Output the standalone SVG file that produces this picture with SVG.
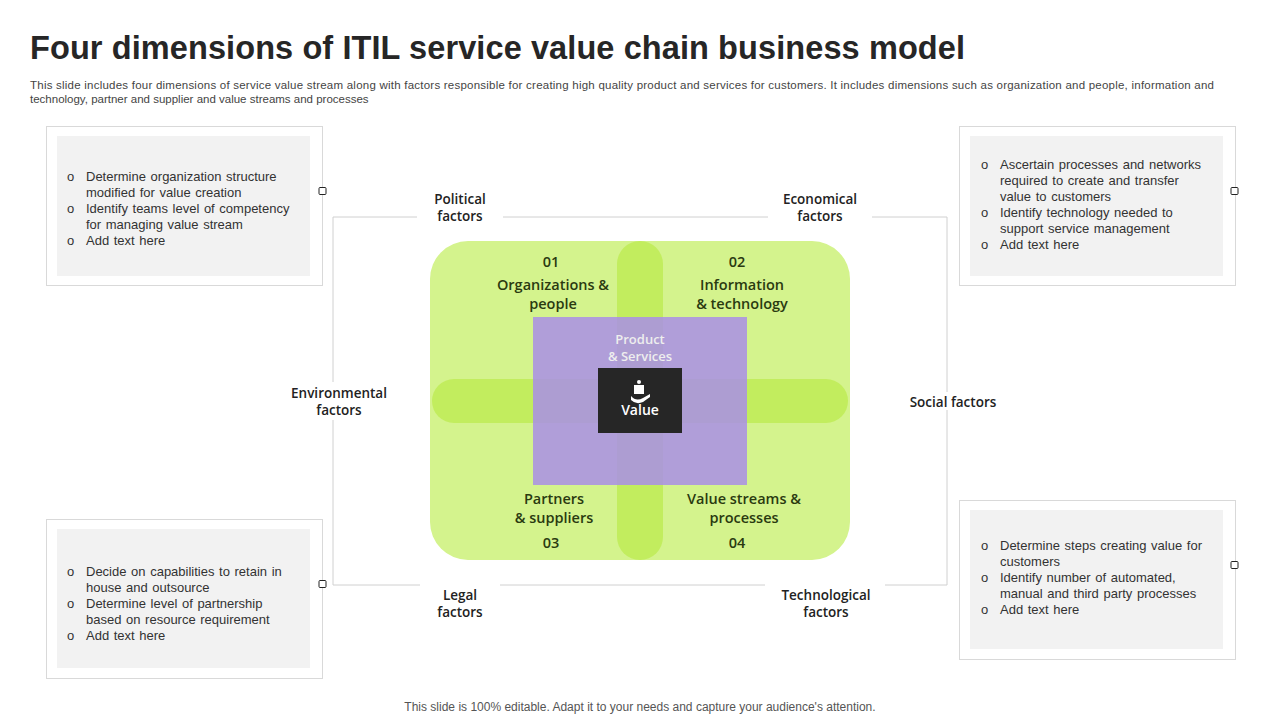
<svg xmlns="http://www.w3.org/2000/svg" width="1280" height="720" viewBox="0 0 1280 720">
<style>
.t{font-family:"Liberation Sans",Arial,sans-serif;fill:#333}
.b{font-family:"Liberation Sans",Arial,sans-serif;font-size:13px;fill:#333;word-spacing:1px}
.c{font-family:"Open Sans","Noto Sans",sans-serif;font-size:13.5px;font-weight:600;fill:#222;text-anchor:middle}
.d{font-family:"Open Sans","Noto Sans",sans-serif;font-size:14.5px;font-weight:600;fill:#2a3a10;text-anchor:middle}
.box{fill:#fff;stroke:#d9d9d9}
.in{fill:#f2f2f2}
.h{fill:#fff;stroke:#222;stroke-width:1}
.ln{stroke:#d0d0d0;fill:none;stroke-width:1}
</style>
<rect width="1280" height="720" fill="#fff"/>
<text x="30" y="59" class="t" style="font-size:32.5px;font-weight:bold;fill:#262626" textLength="935">Four dimensions of ITIL service value chain business model</text>
<text class="t" style="font-size:11.5px;fill:#444"><tspan x="30" y="89" textLength="1184">This slide includes four dimensions of service value stream along with factors responsible for creating high quality product and services for customers. It includes dimensions such as organization and people, information and</tspan><tspan x="30" y="103">technology, partner and supplier and value streams and processes</tspan></text>
<g id="connectors">
<path class="ln" d="M417 217H333V585H420M503 217H768M872 217H947V585H885M500 585H765"/>
</g>
<g id="center">
<rect x="430" y="241" width="420" height="319" rx="38" fill="#d4f38d"/>
<rect x="617" y="241" width="46" height="319" rx="23" fill="#c2ed5e"/>
<rect x="432" y="379" width="416" height="44" rx="22" fill="#c2ed5e"/>
<rect x="533" y="317" width="214" height="168" fill="#a98ee6" opacity="0.85"/>
<rect x="598" y="368" width="84" height="65" fill="#262626"/>
<g fill="#fff"><rect x="634" y="385" width="10" height="9"/><path d="M631 396 q5 6 12 2 l7-4 v3 l-7 5 q-7 3-12-2z"/><circle cx="639" cy="382" r="2"/></g>
<text x="640" y="415" class="d" style="fill:#fff;font-size:14px">Value</text>
<text x="640" y="344" class="d" style="fill:#eee;font-size:13px">Product</text>
<text x="640" y="361" class="d" style="fill:#eee;font-size:13px">&amp; Services</text>
<text x="551" y="267" class="d">01</text>
<text x="553" y="290" class="d">Organizations &amp;</text>
<text x="553" y="309" class="d">people</text>
<text x="737" y="267" class="d">02</text>
<text x="742" y="290" class="d">Information</text>
<text x="742" y="309" class="d">&amp; technology</text>
<text x="554" y="504" class="d">Partners</text>
<text x="554" y="523" class="d">&amp; suppliers</text>
<text x="551" y="548" class="d">03</text>
<text x="744" y="504" class="d">Value streams &amp;</text>
<text x="744" y="523" class="d">processes</text>
<text x="737" y="548" class="d">04</text>
</g>
<g id="factors">
<text x="460" y="204" class="c">Political</text><text x="460" y="221" class="c">factors</text>
<text x="820" y="204" class="c">Economical</text><text x="820" y="221" class="c">factors</text>
<rect x="285" y="382" width="108" height="38" fill="#fff"/>
<text x="339" y="398" class="c">Environmental</text><text x="339" y="415" class="c">factors</text>
<rect x="905" y="392" width="96" height="18" fill="#fff"/>
<text x="953" y="407" class="c">Social factors</text>
<text x="460" y="600" class="c">Legal</text><text x="460" y="617" class="c">factors</text>
<text x="826" y="600" class="c">Technological</text><text x="826" y="617" class="c">factors</text>
</g>
<g id="box-tl">
<rect class="box" x="46.5" y="126.5" width="276" height="159"/>
<rect class="in" x="57" y="136" width="253" height="140"/>
<rect class="h" x="319" y="187.5" width="7" height="7" rx="1"/>
<text class="b"><tspan x="67" y="181">o</tspan><tspan x="86" y="181">Determine organization structure</tspan><tspan x="86" y="197">modified for value creation</tspan><tspan x="67" y="213">o</tspan><tspan x="86" y="213">Identify teams level of competency</tspan><tspan x="86" y="229">for managing value stream</tspan><tspan x="67" y="245">o</tspan><tspan x="86" y="245">Add text here</tspan></text>
</g>
<g id="box-bl">
<rect class="box" x="46.5" y="519.5" width="276" height="159"/>
<rect class="in" x="57" y="529" width="253" height="139"/>
<rect class="h" x="319" y="580.5" width="7" height="7" rx="1"/>
<text class="b"><tspan x="67" y="576">o</tspan><tspan x="86" y="576">Decide on capabilities to retain in</tspan><tspan x="86" y="592">house and outsource</tspan><tspan x="67" y="608">o</tspan><tspan x="86" y="608">Determine level of partnership</tspan><tspan x="86" y="624">based on resource requirement</tspan><tspan x="67" y="640">o</tspan><tspan x="86" y="640">Add text here</tspan></text>
</g>
<g id="box-tr">
<rect class="box" x="959.5" y="126.5" width="276" height="159"/>
<rect class="in" x="970" y="136" width="253" height="140"/>
<rect class="h" x="1231" y="187.5" width="7" height="7" rx="1"/>
<text class="b"><tspan x="981" y="169">o</tspan><tspan x="1000" y="169">Ascertain processes and networks</tspan><tspan x="1000" y="185">required to create and transfer</tspan><tspan x="1000" y="201">value to customers</tspan><tspan x="981" y="217">o</tspan><tspan x="1000" y="217">Identify technology needed to</tspan><tspan x="1000" y="233">support service management</tspan><tspan x="981" y="249">o</tspan><tspan x="1000" y="249">Add text here</tspan></text>
</g>
<g id="box-br">
<rect class="box" x="959.5" y="500.5" width="276" height="159"/>
<rect class="in" x="970" y="510" width="253" height="139"/>
<rect class="h" x="1231" y="561.5" width="7" height="7" rx="1"/>
<text class="b"><tspan x="981" y="550">o</tspan><tspan x="1000" y="550">Determine steps creating value for</tspan><tspan x="1000" y="566">customers</tspan><tspan x="981" y="582">o</tspan><tspan x="1000" y="582">Identify number of automated,</tspan><tspan x="1000" y="598">manual and third party processes</tspan><tspan x="981" y="614">o</tspan><tspan x="1000" y="614">Add text here</tspan></text>
</g>
<text x="640" y="711" class="t" style="font-size:12px;fill:#555;text-anchor:middle">This slide is 100% editable. Adapt it to your needs and capture your audience's attention.</text>
</svg>
